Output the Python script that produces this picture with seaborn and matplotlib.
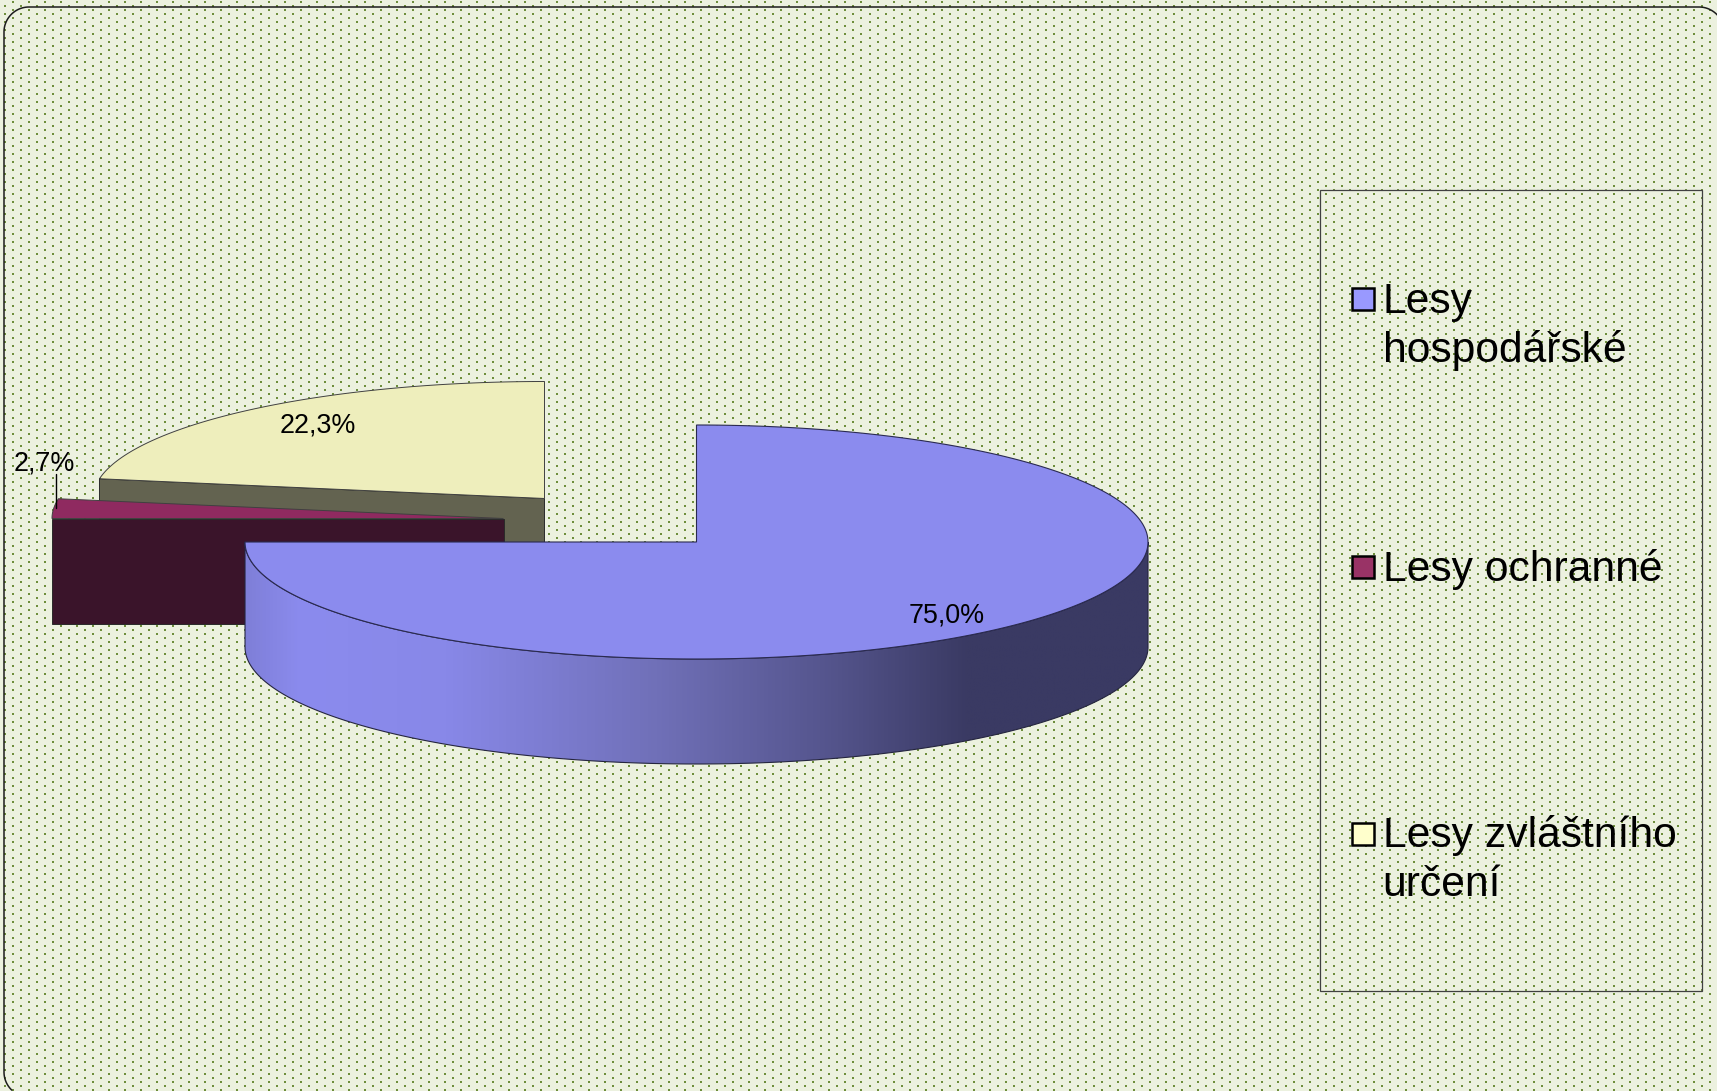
import numpy as np
import matplotlib
matplotlib.use("Agg")
import matplotlib.pyplot as plt
from matplotlib.patches import Polygon, Rectangle
from matplotlib.colors import LinearSegmentedColormap
import seaborn as sns

# Values
categories = ["Lesy\nhospodářské", "Lesy ochranné", "Lesy zvláštního\nurčení"]
shares = [75.0, 2.7, 22.3]
share_labels = ["75,0%", "2,7%", "22,3%"]

top_colors = ["#8b8bee", "#8f2a60", "#eeeebc"]
wall_colors = ["#3a3a63", "#3a142a", "#636350"]
legend_colors = ["#9999ff", "#993366", "#ffffcc"]

W, H = 1717, 1091
RX, RY, DEPTH = 451.5, 117, 105
# where each slice's tip sits (exploded slices are moved away from the centre)
apex_x = [696.5, 503.5, 544.5]
apex_y = [542, 518.5, 498.5]

sns.set_theme(style="white")
plt.rcParams["font.family"] = ["Liberation Sans", "DejaVu Sans"]

fig = plt.figure(figsize=(W / 100, H / 100), dpi=100)
ax = fig.add_axes([0, 0, 1, 1])

# dotted page background
bg = np.ones((H, W, 3)) * np.array([0xec, 0xf1, 0xdf]) / 255
dot = np.array([0x6e, 0x8e, 0x3c]) / 255
for oy, ox in [(1, 12), (5, 4)]:
    for y in range(oy, H - 1, 8):
        for x in range(ox, W - 1, 16):
            bg[y:y + 2, x:x + 2] = dot
ax.imshow(bg, extent=(0, W, H, 0), interpolation="nearest", aspect="auto", zorder=0)


def arc(cx, cy, a0, a1, n=200):
    # angles in degrees clockwise from 12 o'clock
    t = np.radians(np.linspace(a0, a1, n))
    return cx + RX * np.sin(t), cy - RY * np.cos(t)


# slice angles come from the shares
ends = np.cumsum(shares) * 3.6
starts = np.concatenate([[0], ends[:-1]])

# yellow first, then red, blue goes on top
for i in [2, 1]:
    cx, cy = apex_x[i], apex_y[i]
    ex, ey = arc(cx, cy, starts[i], starts[i] + 0.001, 2)
    wall = [(ex[0], ey[0]), (cx, cy), (cx, cy + DEPTH), (ex[0], ey[0] + DEPTH)]
    ax.add_patch(Polygon(wall, fc=wall_colors[i], ec="#2a2a2a", lw=0.7, zorder=2 + (2 - i) * 2))
    xs, ys = arc(cx, cy, starts[i], ends[i])
    ax.add_patch(Polygon(np.r_[[(cx, cy)], np.c_[xs, ys]], fc=top_colors[i], ec="#404040",
                         lw=0.7, zorder=3 + (2 - i) * 2))

# blue slice wall with the shading across it
cx, cy = apex_x[0], apex_y[0]
xs, ys = arc(cx, cy, 90, 270)
wall = np.r_[np.c_[xs, ys], np.c_[xs[::-1], ys[::-1] + DEPTH]]
ax.add_patch(Polygon(wall, fc="none", ec="#25253f", lw=0.8, zorder=7))
shade = LinearSegmentedColormap.from_list("shade", [
    (0.0, "#7f7fd8"), (0.06, "#8b8bee"), (0.22, "#8888e8"), (0.455, "#7070b8"),
    (0.65, "#54548c"), (0.80, "#3a3a63"), (1.0, "#3a3a63")])
img = ax.imshow(np.linspace(0, 1, 512)[None, :], extent=(cx - RX, cx + RX, cy + RY + DEPTH, cy - 10),
                cmap=shade, aspect="auto", zorder=6)
img.set_clip_path(Polygon(wall, transform=ax.transData))

# blue slice top
xs, ys = arc(cx, cy, starts[0], ends[0], 400)
ax.add_patch(Polygon(np.r_[[(cx, cy)], np.c_[xs, ys]], fc=top_colors[0], ec="#2a2a50",
                     lw=0.8, zorder=8))

# percent labels
ax.text(909, 622, share_labels[0], fontsize=19.4, color="black", zorder=10)
ax.text(14, 471, share_labels[1], fontsize=19.4, color="black", zorder=10)
ax.text(280, 432, share_labels[2], fontsize=19.4, color="black", zorder=10)
ax.plot([56, 56], [474, 508], color="black", lw=1.0, zorder=10)

# legend box
ax.add_patch(Rectangle((1320, 189.5), 382, 801.5, fc="none", ec="#404040", lw=0.9, zorder=9))
for label, col, y0 in zip(categories, legend_colors, [288, 555.5, 822.5]):
    ax.add_patch(Rectangle((1352, y0), 22, 22, fc=col, ec="black", lw=1.8, zorder=10))
    for j, part in enumerate(label.split("\n")):
        ax.text(1382.5, y0 + 25 + j * 49, part, fontsize=30.7, color="black", zorder=10)

# rounded outer frame, only top and left are inside the picture
r = 25
t = np.radians(np.linspace(0, 90, 30))
frame_x = np.r_[29 - r * np.cos(t[::-1]), 29 - r * np.cos(t), 1699 + r * np.sin(t)]
frame_y = np.r_[1072 + r * np.sin(t[::-1]), 32 - r * np.sin(t), 32 - r * np.cos(t)]
keep = frame_y <= H
ax.plot(frame_x[keep], frame_y[keep], color="#1c1c1c", lw=1.1, zorder=11)

ax.set_xlim(0, W)
ax.set_ylim(H, 0)
ax.axis("off")
fig.savefig("out.png", dpi=100)
